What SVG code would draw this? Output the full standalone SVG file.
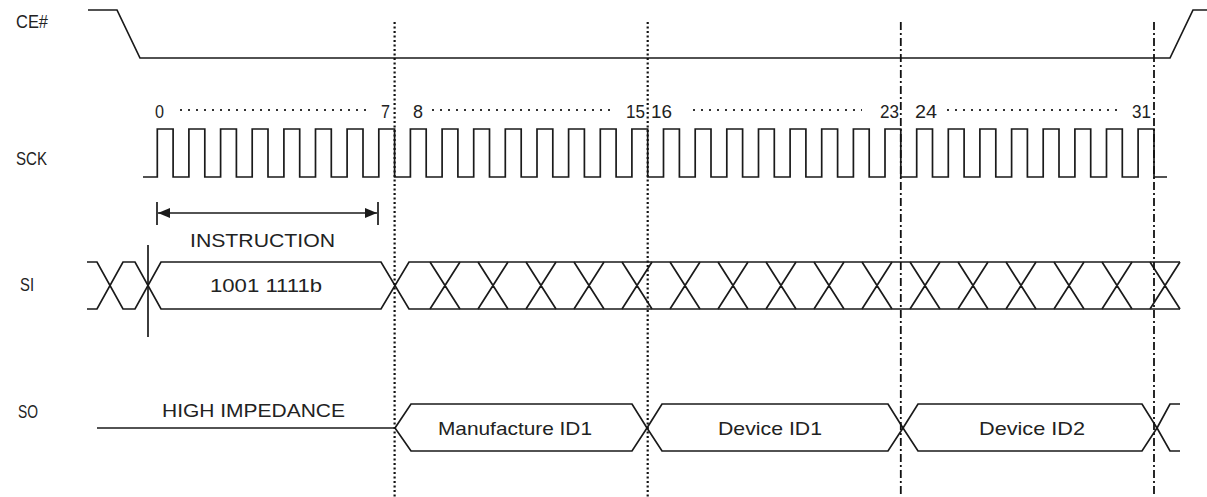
<svg xmlns="http://www.w3.org/2000/svg" width="1207" height="497" viewBox="0 0 1207 497">
<style>
.w{fill:none;stroke:#1a1a1a;stroke-width:1.7;stroke-linejoin:miter}
.t{font-family:"Liberation Sans",Arial,sans-serif;font-size:19px;fill:#222}
.dot{fill:none;stroke:#111;stroke-width:2.2;stroke-dasharray:2 2.5}
.dd{fill:none;stroke:#111;stroke-width:1.8;stroke-dasharray:8 3 2 3}
.hd{fill:none;stroke:#333;stroke-width:1.8;stroke-dasharray:2 6}
</style>
<defs>
<marker id="ah" viewBox="0 0 12 10" refX="12" refY="5" markerWidth="12" markerHeight="10" markerUnits="userSpaceOnUse" orient="auto-start-reverse">
<path d="M0 0 L12 5 L0 10 Z" fill="#1a1a1a"/>
</marker>
</defs>
<rect width="1207" height="497" fill="#ffffff"/>

<g id="ce">
<text class="t" x="16" y="28" textLength="32" lengthAdjust="spacingAndGlyphs">CE#</text>
<path class="w" d="M88 10 H117 L140 58 H1170 L1193 10 H1207"/>
</g>

<g id="sck">
<text class="t" x="16" y="165" textLength="31" lengthAdjust="spacingAndGlyphs">SCK</text>
<path class="w" d="M143 177 H157.3 V129 H173.1 V177 H188.9 V129 H204.8 V177 H220.6 V129 H236.4 V177 H252.2 V129 H268 V177 H283.9 V129 H299.7 V177 H315.5 V129 H331.3 V177 H347.1 V129 H363 V177 H378.8 V129 H394.6 V177 H410.4 V129 H426.2 V177 H442.1 V129 H457.9 V177 H473.7 V129 H489.5 V177 H505.3 V129 H521.2 V177 H537 V129 H552.8 V177 H568.6 V129 H584.4 V177 H600.3 V129 H616.1 V177 H631.9 V129 H647.7 V177 H663.5 V129 H679.4 V177 H695.2 V129 H711 V177 H726.8 V129 H742.6 V177 H758.5 V129 H774.3 V177 H790.1 V129 H805.9 V177 H821.7 V129 H837.6 V177 H853.4 V129 H869.2 V177 H885 V129 H900.8 V177 H916.7 V129 H932.5 V177 H948.3 V129 H964.1 V177 H979.9 V129 H995.8 V177 H1011.6 V129 H1027.4 V177 H1043.2 V129 H1059 V177 H1074.9 V129 H1090.7 V177 H1106.5 V129 H1122.3 V177 H1138.1 V129 H1154 V177 H1167"/>
<g id="clock-numbers">
<text class="t" x="155" y="118" textLength="9" lengthAdjust="spacingAndGlyphs">0</text>
<text class="t" x="381" y="118" textLength="9" lengthAdjust="spacingAndGlyphs">7</text>
<text class="t" x="413" y="118" textLength="10" lengthAdjust="spacingAndGlyphs">8</text>
<text class="t" x="626" y="118" textLength="19" lengthAdjust="spacingAndGlyphs">15</text>
<text class="t" x="651" y="118" textLength="21" lengthAdjust="spacingAndGlyphs">16</text>
<text class="t" x="880" y="118" textLength="19" lengthAdjust="spacingAndGlyphs">23</text>
<text class="t" x="915" y="118" textLength="22" lengthAdjust="spacingAndGlyphs">24</text>
<text class="t" x="1132" y="118" textLength="19" lengthAdjust="spacingAndGlyphs">31</text>
<path class="hd" d="M180 110 H367 M432 110 H610 M693 110 H862 M947 110 H1123"/>
</g>
</g>

<g id="si">
<text class="t" x="20" y="291" textLength="14" lengthAdjust="spacingAndGlyphs">SI</text>
<path class="w" d="M87 262 H97 L123 309 H135 L161 262 H381 L409 309 H1180 M87 309 H97 L123 262 H135 L161 309 H381 L409 262 H1180"/>
<path class="w" d="M430 262 L460 309 M430 309 L460 262 M478 262 L508 309 M478 309 L508 262 M526 262 L556 309 M526 309 L556 262 M574 262 L604 309 M574 309 L604 262 M622 262 L652 309 M622 309 L652 262 M670 262 L700 309 M670 309 L700 262 M718 262 L748 309 M718 309 L748 262 M766 262 L796 309 M766 309 L796 262 M814 262 L844 309 M814 309 L844 262 M862 262 L892 309 M862 309 L892 262 M910 262 L940 309 M910 309 L940 262 M958 262 L988 309 M958 309 L988 262 M1006 262 L1036 309 M1006 309 L1036 262 M1054 262 L1084 309 M1054 309 L1084 262 M1102 262 L1132 309 M1102 309 L1132 262 M1150 262 L1180 309 M1150 309 L1180 262"/>
<path class="w" d="M148 245 V337"/>
<text class="t" x="210" y="292" textLength="112" lengthAdjust="spacingAndGlyphs">1001 1111b</text>
</g>

<g id="so">
<text class="t" x="18" y="418" textLength="20" lengthAdjust="spacingAndGlyphs">SO</text>
<path class="w" d="M97 428 H395"/>
<text class="t" x="162" y="417" textLength="183" lengthAdjust="spacingAndGlyphs">HIGH IMPEDANCE</text>
<g id="so-mid1">
<path class="w" d="M395 428 L411 404 H632 L647 428 L632 451 H411 Z"/>
<text class="t" x="438" y="435" textLength="154" lengthAdjust="spacingAndGlyphs">Manufacture ID1</text>
</g>
<g id="so-did1">
<path class="w" d="M647 428 L662 404 H888 L903 428 L888 451 H662 Z"/>
<text class="t" x="718" y="435" textLength="104" lengthAdjust="spacingAndGlyphs">Device ID1</text>
</g>
<g id="so-did2">
<path class="w" d="M903 428 L918 404 H1142 L1157 428 L1142 451 H918 Z"/>
<text class="t" x="979" y="435" textLength="106" lengthAdjust="spacingAndGlyphs">Device ID2</text>
</g>
<path class="w" d="M1180 404 H1170 L1157 428 L1170 451 H1180"/>
</g>

<g id="connectors">
<path class="dot" d="M394.6 22 V497"/>
<path class="dot" d="M647.7 22 V497"/>
<path class="dd" d="M900.8 22 V497"/>
<path class="dd" d="M1154 22 V497"/>
<path class="w" d="M157 202 V225 M378 202 V225"/>
<path class="w" d="M158 213 H377" marker-start="url(#ah)" marker-end="url(#ah)"/>
<text class="t" x="190" y="247" textLength="145" lengthAdjust="spacingAndGlyphs">INSTRUCTION</text>
</g>
</svg>
